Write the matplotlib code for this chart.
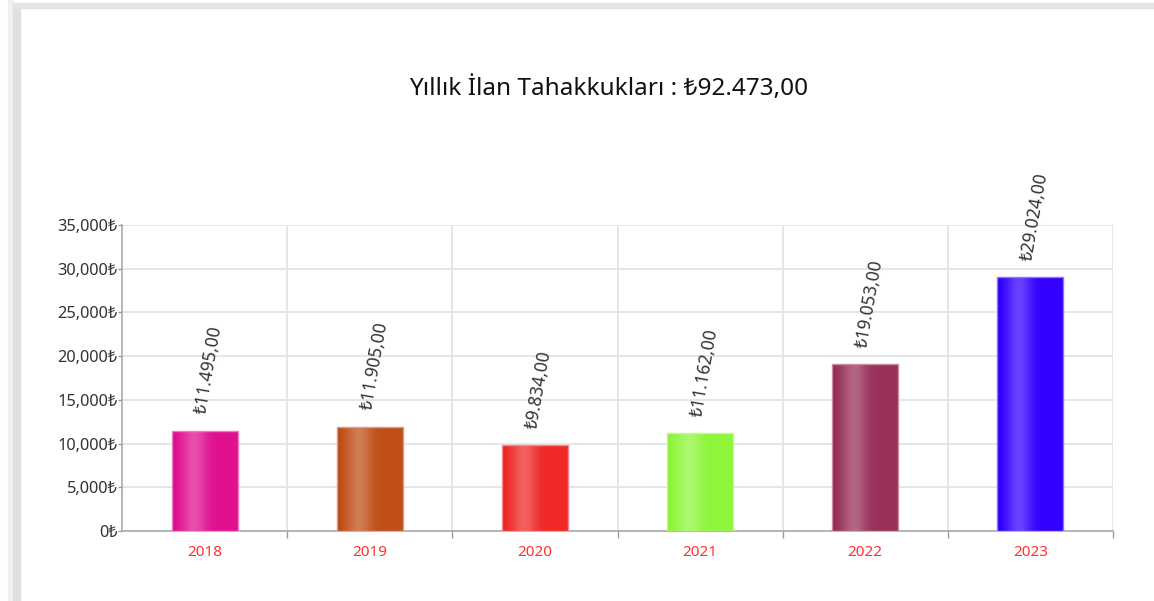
import numpy as np
import matplotlib
matplotlib.use('Agg')
import matplotlib.pyplot as plt
from matplotlib.colors import to_rgb
from matplotlib.patches import Rectangle
from matplotlib.ticker import FuncFormatter, MultipleLocator

plt.rcParams['font.family'] = ['Noto Sans', 'DejaVu Sans']

# data
years = ['2018', '2019', '2020', '2021', '2022', '2023']
amounts = [11495, 11905, 9834, 11162, 19053, 29024]
value_labels = ['₺11.495,00', '₺11.905,00', '₺9.834,00', '₺11.162,00', '₺19.053,00', '₺29.024,00']
bar_colors = ['#E0108F', '#C04E18', '#F02828', '#8EF53A', '#98305A', '#3300FF']
title = 'Yıllık İlan Tahakkukları : ₺92.473,00'


def gradient_strip(color, n=64):
    # soft light streak at ~33% of bar width, slightly darker left edge
    t = np.linspace(0, 1, n)
    w = 0.26 * np.exp(-((t - 0.33) / 0.18) ** 2) - 0.05 * np.exp(-(t / 0.06) ** 2)
    base = np.array(to_rgb(color))
    rows = []
    for wi in w:
        if wi >= 0:
            rows.append(base + (1 - base) * wi)
        else:
            rows.append(base * (1 + wi))
    return np.clip(np.array(rows)[None, :, :], 0, 1)


fig = plt.figure(figsize=(11.54, 6.01), dpi=100)

# window frame decoration (left and top grey bands)
fig.patches.append(Rectangle((8 / 1154, 0), 5 / 1154, 1, transform=fig.transFigure,
                             color='#F0F0F2', zorder=0))
fig.patches.append(Rectangle((13 / 1154, 0), 7 / 1154, 1 - 8 / 601, transform=fig.transFigure,
                             color='#E0E0E4', zorder=0))
fig.patches.append(Rectangle((13 / 1154, 1 - 8 / 601), 1, 5 / 601, transform=fig.transFigure,
                             color='#E4E4E6', zorder=0))

ax = fig.add_axes([122 / 1154, 1 - 531 / 601, 991 / 1154, 306 / 601])

x = np.arange(len(years))
bars = ax.bar(x, amounts, width=0.4, color=bar_colors, zorder=3)

for bar, col in zip(bars, bar_colors):
    edge = np.array(to_rgb(col))
    edge = tuple(edge + (1 - edge) * 0.45)
    img = ax.imshow(gradient_strip(col), aspect='auto', zorder=3.5,
                    extent=(bar.get_x(), bar.get_x() + bar.get_width(), 0, bar.get_height()),
                    interpolation='bilinear')
    img.set_clip_path(bar)
    # outline on top of the gradient
    ax.add_patch(Rectangle((bar.get_x(), 0), bar.get_width(), bar.get_height(),
                           fill=False, edgecolor=edge, linewidth=1.0, zorder=4))

for xi, val, lab in zip(x, amounts, value_labels):
    ax.annotate(lab, (xi, val), xytext=(-2.5, 12), textcoords='offset points',
                rotation=80, rotation_mode='anchor', ha='left', va='center',
                fontsize=12.5, color='#333333', zorder=5)

ax.set_xlim(-0.5, len(years) - 0.5)
ax.set_ylim(0, 35000)

ax.set_xticks(x)
ax.set_xticklabels(years)
ax.set_xticks(np.arange(len(years)) + 0.5, minor=True)
ax.tick_params(axis='x', which='major', length=0, pad=10, labelsize=11, labelcolor='#FF3030')
ax.tick_params(axis='x', which='minor', length=5, color='#999999', width=1)

ax.yaxis.set_major_locator(MultipleLocator(5000))
ax.yaxis.set_major_formatter(FuncFormatter(lambda v, p: f'{v:,.0f}₺'))
ax.tick_params(axis='y', length=3, color='#999999', width=1, labelsize=11.8,
               labelcolor='#333333', pad=0)

ax.grid(True, axis='y', color='#E4E4E4', linewidth=1.3, zorder=0)
ax.grid(True, axis='x', which='minor', color='#E4E4E4', linewidth=1.3, zorder=0)
ax.set_axisbelow(True)

for side in ['top', 'right']:
    ax.spines[side].set_visible(False)
ax.spines['left'].set_color('#AAAAAA')
ax.spines['bottom'].set_color('#AAAAAA')
ax.spines['left'].set_linewidth(1.2)
ax.spines['bottom'].set_linewidth(1.2)

fig.text(609 / 1154, 1 - 89 / 601, title, ha='center', va='center', fontsize=17.5, color='#111111')

fig.savefig('out.png', dpi=100)
